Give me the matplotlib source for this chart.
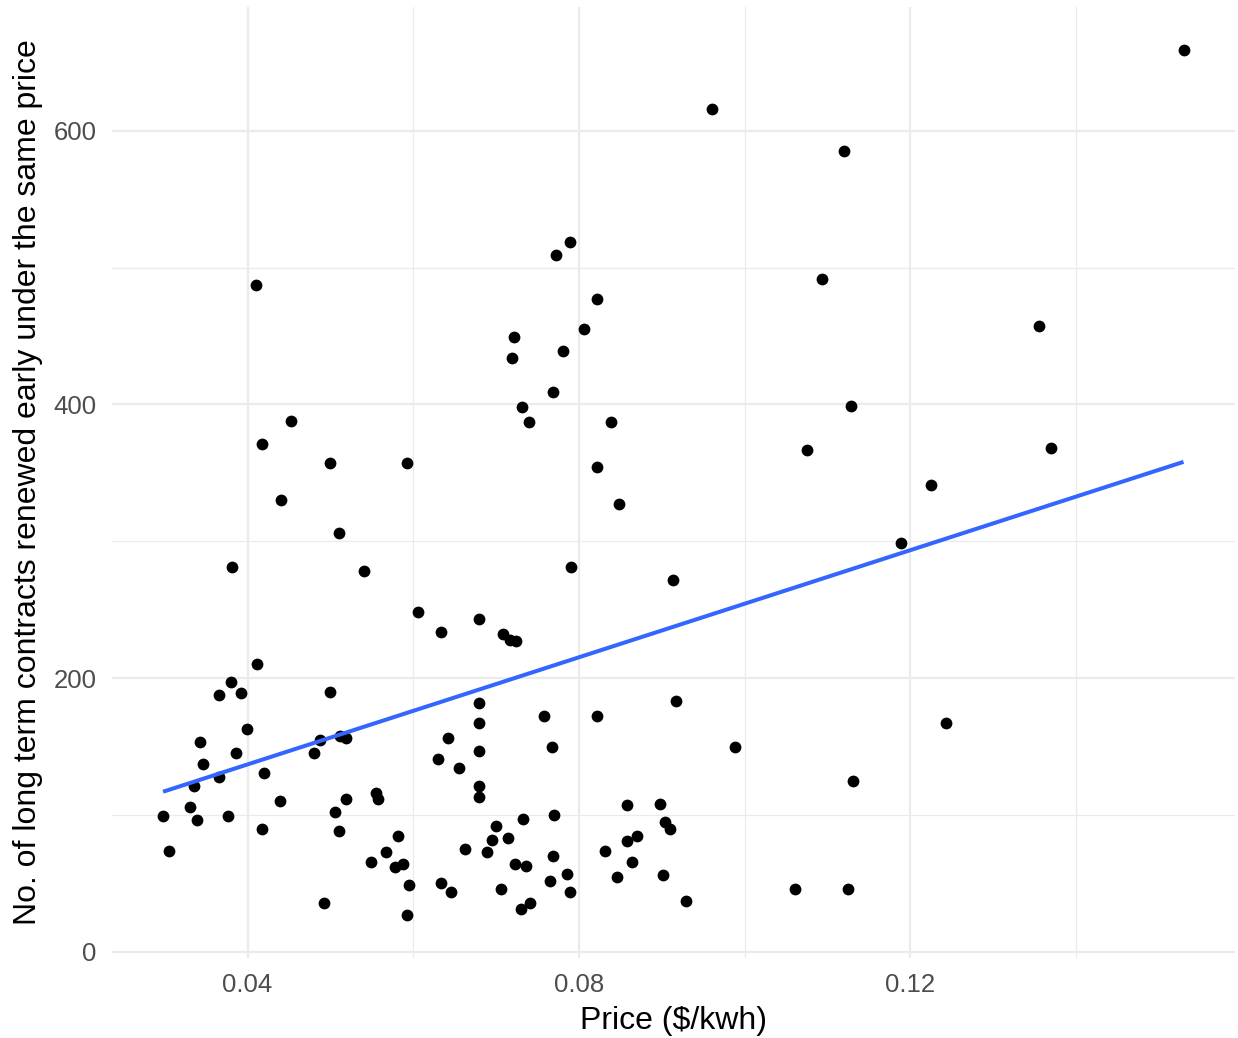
import numpy as np
import matplotlib
matplotlib.use("Agg")
import matplotlib.pyplot as plt

plt.rcParams['font.family'] = ['Liberation Sans', 'DejaVu Sans']

# price ($/kwh) and number of long term contracts renewed early
price = [0.1530, 0.0961, 0.1120, 0.0789, 0.0772, 0.1094, 0.0410, 0.0822, 0.1355, 0.0806,
         0.0722, 0.0781, 0.0719, 0.0769, 0.0731, 0.1129, 0.0452, 0.0740, 0.0839, 0.0417,
         0.1076, 0.1370, 0.0500, 0.0592, 0.0822, 0.0848, 0.0440, 0.1225, 0.0511, 0.1189,
         0.0381, 0.0541, 0.0790, 0.0914, 0.0606, 0.0634, 0.0680, 0.0708, 0.0717, 0.0724,
         0.0412, 0.0380, 0.0366, 0.0392, 0.0399, 0.0343, 0.0386, 0.0346, 0.0365, 0.0335,
         0.0420, 0.0330, 0.0298, 0.0339, 0.0376, 0.0439, 0.0418, 0.0305, 0.0499, 0.0487,
         0.0480, 0.0512, 0.0519, 0.0555, 0.0557, 0.0519, 0.0506, 0.0511, 0.0582, 0.0567,
         0.0549, 0.0578, 0.0588, 0.0595, 0.0492, 0.0593, 0.0680, 0.0680, 0.0642, 0.0680,
         0.0630, 0.0655, 0.0680, 0.0680, 0.0758, 0.0767, 0.0822, 0.0917, 0.0858, 0.0898,
         0.0770, 0.0733, 0.0700, 0.0714, 0.0695, 0.0689, 0.0663, 0.0633, 0.0646, 0.0706,
         0.0723, 0.0736, 0.0769, 0.0765, 0.0786, 0.0789, 0.0741, 0.0730, 0.0831, 0.0858,
         0.0870, 0.0864, 0.0846, 0.0904, 0.0910, 0.0901, 0.0929, 0.0989, 0.1131, 0.1243,
         0.1061, 0.1125]
renewed = [659, 616, 585, 519, 509, 492, 487, 477, 457, 455,
           449, 439, 434, 409, 398, 399, 388, 387, 387, 371,
           367, 368, 357, 357, 354, 327, 330, 341, 306, 299,
           281, 278, 281, 272, 248, 234, 243, 232, 228, 227,
           210, 197, 188, 189, 163, 153, 145, 137, 128, 121,
           131, 106, 99, 96, 99, 110, 90, 74, 190, 155,
           145, 158, 156, 116, 112, 112, 102, 88, 85, 73,
           66, 62, 64, 49, 36, 27, 182, 167, 156, 147,
           141, 134, 121, 113, 172, 150, 172, 183, 107, 108,
           100, 97, 92, 83, 82, 73, 75, 50, 44, 46,
           64, 63, 70, 52, 57, 44, 36, 31, 74, 81,
           85, 66, 55, 95, 90, 56, 37, 150, 125, 167,
           46, 46]

x = np.array(price)
y = np.array(renewed)

fig = plt.figure(figsize=(12.38, 10.38), dpi=100)
ax = fig.add_axes([0.0905, 0.0769, 0.9972 - 0.0905, 0.9935 - 0.0769])

ax.scatter(x, y, s=72, color='black', linewidths=0, zorder=3)

# linear fit, drawn across the data range
b, a = np.polyfit(x, y, 1)
xs = np.array([x.min(), x.max()])
ax.plot(xs, a + b * xs, color='#3366FF', linewidth=2.9, solid_capstyle='butt', zorder=4)

# ggplot-like 5% expansion
xr = x.max() - x.min()
yr = y.max() - y.min()
ax.set_xlim(x.min() - 0.05 * xr, x.max() + 0.05 * xr)
ax.set_ylim(y.min() - 0.05 * yr, y.max() + 0.05 * yr)

ax.set_xticks([0.04, 0.08, 0.12])
ax.set_xticklabels(['0.04', '0.08', '0.12'])
ax.set_xticks([0.06, 0.10, 0.14], minor=True)
ax.set_yticks([0, 200, 400, 600])
ax.set_yticks([100, 300, 500], minor=True)

ax.grid(which='major', color='#EBEBEB', linewidth=1.6, zorder=0)
ax.grid(which='minor', color='#EBEBEB', linewidth=0.9, zorder=0)
ax.set_axisbelow(True)
for s in ax.spines.values():
    s.set_visible(False)
ax.tick_params(which='both', length=0)
ax.tick_params(axis='x', labelsize=18.5, labelcolor='#4D4D4D', pad=11)
ax.tick_params(axis='y', labelsize=18.5, labelcolor='#4D4D4D', pad=11)

ax.set_xlabel('Price ($/kwh)', fontsize=23, color='black', labelpad=6)
ax.set_ylabel('No. of long term contracts renewed early under the same price',
              fontsize=23, color='black', labelpad=8)

fig.savefig('out.png', dpi=100, facecolor='white')
